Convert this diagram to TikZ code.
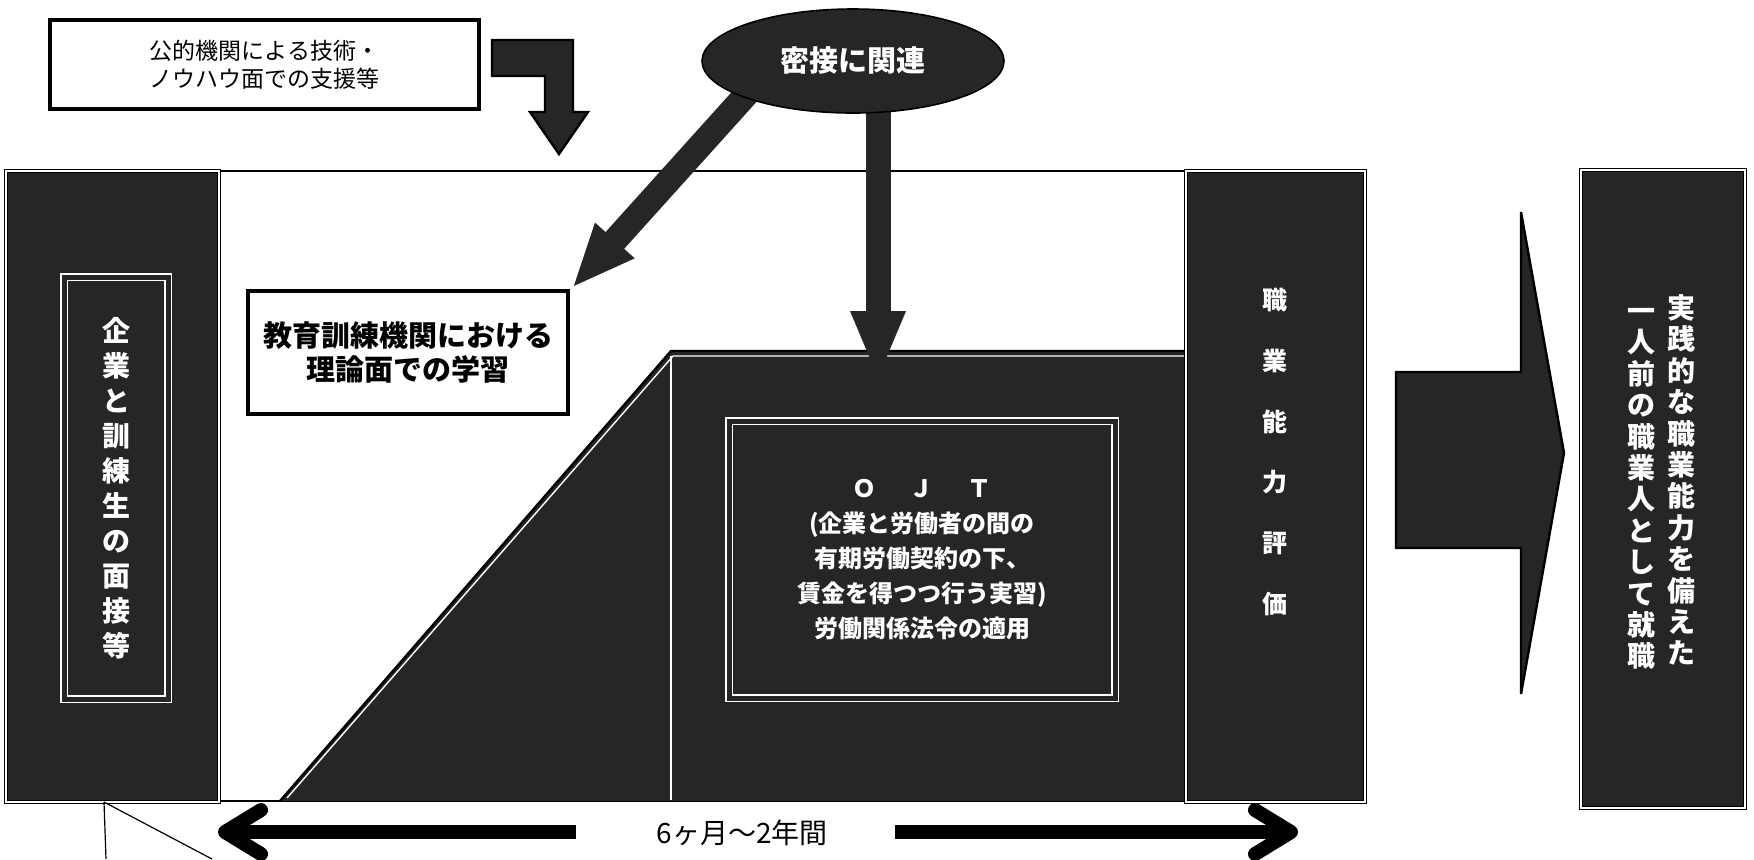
\documentclass[tikz,border=0pt]{standalone}
\usepackage{fontspec}
\newfontfamily\jp{Noto Sans CJK JP}
\usetikzlibrary{arrows.meta,fit,shapes.geometric,calc}
\definecolor{dk}{gray}{0.15}
\pgfdeclarelayer{fg}
\pgfsetlayers{main,fg}
\begin{document}
\begin{tikzpicture}[x=0.5pt,y=-0.5pt,
  darkbox/.style={fill=dk,draw=black,line width=0.7pt,double=white,double distance=0.9pt,inner sep=0pt},
  whitearea/.style={fill=white,draw=black,line width=1.2pt,inner sep=0pt},
  textbox/.style={fill=white,draw=black,line width=2pt,inner sep=0pt},
  innerbox/.style={draw=white,line width=0.7pt,double=dk,double distance=2.5pt,inner sep=0pt},
  wtext/.style={text=white,align=center,inner sep=0pt},
  btext/.style={text=black,align=center,inner sep=0pt},
  fatarrow/.style={draw=dk,line width=12.5pt},
  blockarrow/.style={fill=dk,draw=black,line width=1.2pt},
  durarrow/.style={draw=black,line width=7pt,-{Straight Barb[length=18pt,width=22pt,round]}}
]
\useasboundingbox (0,0) rectangle (1754,859);
\fill[white] (0,0) rectangle (1754,859);

% top-left note box
\node[textbox,line width=1.6pt,fit={(50,20) (479,109)}] (note) {};
\node[btext,font=\jp\fontsize{11.5}{14}\selectfont] (notetxt) at (note.center) {公的機関による技術・\\ノウハウ面での支援等};

% L-shaped block arrow
\draw[blockarrow] (492,40) -- (573,40) -- (573,112) -- (588,112) -- (559,154) -- (530,112) -- (545,112) -- (545,76) -- (492,76) -- cycle;

% white main area
\node[whitearea,fit={(219,171) (1186,801)}] (area) {};

% left column
\node[darkbox,fit={(6,171) (219,802)}] (interview) {};
\node[innerbox,fit={(64,277) (168,699)}] (interviewin) {};
\node[wtext,font=\jp\bfseries\fontsize{14}{17.5}\selectfont] (interviewtxt) at (116,488) {企\\業\\と\\訓\\練\\生\\の\\面\\接\\等};

% education box
\node[textbox,fit={(248,291) (568,414)}] (edu) {};
\node[btext,font=\jp\bfseries\fontsize{14.5}{17}\selectfont] (edutxt) at (edu.center) {教育訓練機関における\\理論面での学習};

% OJT trapezoid
\fill[dk] (280,801) -- (671,351) -- (1186,351) -- (1186,801) -- cycle;
\draw[black,line width=1.2pt] (280,801) -- (671,351) -- (1186,351);
\draw[white,line width=0.7pt] (287,798) -- (673,356) -- (1184,356);
\draw[white,line width=0.7pt] (671,356) -- (671,800);
\node[innerbox,fit={(729,421) (1115,698)}] (ojtbox) {};
\node[wtext,font=\jp\bfseries\fontsize{12}{17.5}\selectfont] (ojttxt) at (ojtbox.center) {Ｏ\hspace{1.4em}Ｊ\hspace{1.4em}Ｔ\\(企業と労働者の間の\\有期労働契約の下、\\賃金を得つつ行う実習)\\労働関係法令の適用};

% evaluation column
\node[darkbox,fit={(1186,171) (1365,802)}] (eval) {};
\node[wtext,font=\jp\bfseries\fontsize{12.5}{30.4}\selectfont] (evaltxt) at (1275,452) {職\\業\\能\\力\\評\\価};

% right block arrow
\draw[blockarrow] (1396,372) -- (1521,372) -- (1521,212) -- (1564,453) -- (1521,694) -- (1521,548) -- (1396,548) -- cycle;

% result column
\node[darkbox,fit={(1581,170) (1745,808)}] (result) {};
\node[wtext,font=\jp\bfseries\fontsize{14}{15.7}\selectfont] (resulttxt1) at (1681,480) {実\\践\\的\\な\\職\\業\\能\\力\\を\\備\\え\\た};
\node[wtext,font=\jp\bfseries\fontsize{14}{15.7}\selectfont] (resulttxt2) at (1641,489) {一\\人\\前\\の\\職\\業\\人\\と\\し\\て\\就\\職};

% ellipse
\begin{pgfonlayer}{fg}
\node[ellipse,fill=dk,draw=black,line width=0.8pt,minimum width=151pt,minimum height=52pt,inner sep=0pt,text=white,font=\jp\bfseries\fontsize{14.5}{17}\selectfont] (ell) at (853,61) {密接に関連};
\end{pgfonlayer}

% connectors from ellipse
\coordinate (vtip) at (878,381);
\coordinate (dtip) at (572,288);
\draw[fatarrow,-{Triangle[length=35pt,width=25pt]}] ($(ell.south)+(25,-20)$) -- (vtip);
\draw[fatarrow,-{Triangle[length=32pt,width=24pt]}] ($(ell.south west)+(8,-12)$) -- (dtip);

% duration arrow
\node[btext,font=\jp\fontsize{14}{17}\selectfont] (dur) at (742,833) {6ヶ月～2年間};
\coordinate (durL) at (576,832);
\coordinate (durR) at (895,832);
\coordinate (endL) at (218,832);
\coordinate (endR) at (1298,832);
\draw[durarrow] (durL) -- (endL);
\draw[durarrow] (durR) -- (endR);

% bottom-left lines
\coordinate (cl) at (104,802);
\coordinate (cv) at (106,859);
\coordinate (cd) at (212,859);
\draw[black,line width=0.6pt] (cl) -- (cv);
\draw[black,line width=0.6pt] (cl) -- (cd);
\end{tikzpicture}
\end{document}
